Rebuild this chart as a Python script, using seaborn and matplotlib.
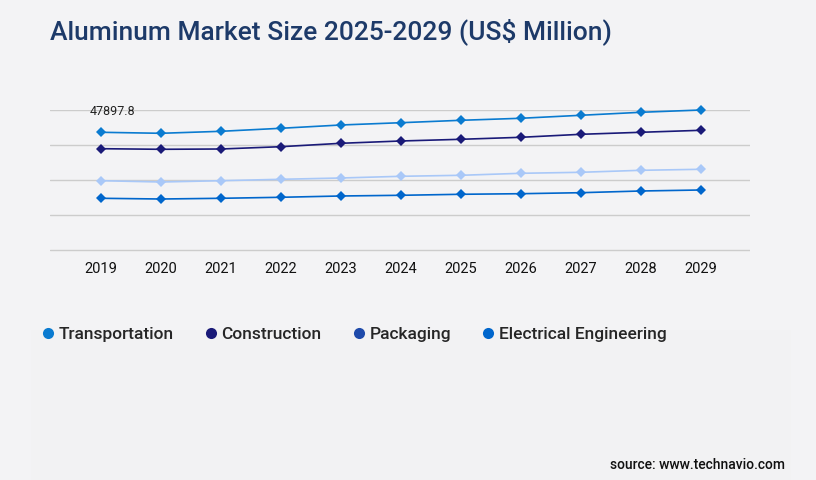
import numpy as np
import pandas as pd
import matplotlib
matplotlib.use("Agg")
import matplotlib.pyplot as plt
from matplotlib.lines import Line2D
from matplotlib.patches import Rectangle
import seaborn as sns

years = [2019, 2020, 2021, 2022, 2023, 2024, 2025, 2026, 2027, 2028, 2029]
transportation = [47897.8, 47490, 48300, 49530, 50870, 51800, 52780, 53600, 54820, 56040, 56970]
construction = [41220, 40980, 41100, 42040, 43420, 44360, 45050, 45860, 47080, 47900, 48710]
packaging = [28200, 27670, 28200, 28770, 29300, 29990, 30400, 31210, 31620, 32430, 32840]
electrical = [21040, 20750, 21040, 21450, 21980, 22260, 22670, 22910, 23320, 24010, 24420]

segments = ["Transportation", "Construction", "Packaging", "Electrical Engineering"]
line_colors = {"Transportation": "#0A7BD0", "Construction": "#1A1A78",
               "Packaging": "#A9C8F8", "Electrical Engineering": "#0066CC"}
legend_colors = ["#0A7BD0", "#1A1A78", "#1E4AAA", "#0066CC"]

df = pd.DataFrame({
    "year": years * 4,
    "value": transportation + construction + packaging + electrical,
    "segment": [s for s in segments for _ in years],
})

bg = "#F3F3F5"
sns.set_style("white")
plt.rcParams["font.family"] = ["Roboto", "DejaVu Sans"]

fig = plt.figure(figsize=(8.16, 4.8), dpi=100, facecolor=bg)
fig.patches.append(Rectangle((31 / 816, 0), 760 / 816, 150 / 480, transform=fig.transFigure,
                             facecolor="#F2F2F3", edgecolor="none", zorder=0))
# axes a bit taller than the grid so the bottom gridline is not clipped
ax = fig.add_axes([50 / 816, 1 - 252 / 480, 700 / 816, 142 / 480])
ax.set_facecolor("none")

sns.lineplot(data=df, x="year", y="value", hue="segment", palette=line_colors,
             marker="D", markersize=5.5, markeredgewidth=0, linewidth=1.2,
             legend=False, ax=ax, clip_on=False)

ax.set_ylim(-814, 56970)
ax.set_yticks(np.linspace(0, 56970, 5))
ax.set_yticklabels([])
ax.tick_params(axis="y", length=0)
ax.set_xlim(2019 - 0.85, 2029 + 0.82)
ax.set_xticks(years)
ax.set_xticklabels([str(y) for y in years], fontsize=10.5, color="#111111")
ax.tick_params(axis="x", length=0, pad=7)
ax.grid(axis="y", color="#CCCCCC", linewidth=1)
ax.set_axisbelow(True)
ax.set_xlabel("")
ax.set_ylabel("")
for s in ax.spines.values():
    s.set_visible(False)

ax.annotate(f"{transportation[0]}", (years[0], transportation[0]), xytext=(-11, 14),
            textcoords="offset pixels", ha="left", va="bottom", fontsize=9, color="#222222")

fig.text(50 / 816, 1 - 32 / 480, "Aluminum Market Size 2025-2029 (US$ Million)",
         fontsize=19, fontweight="medium", color="#1D3A69", va="center", ha="left")

handles = [Line2D([], [], marker="o", linestyle="none", markersize=8, color=c,
                  markeredgewidth=0) for c in legend_colors]
fig.legend(handles, segments, loc="center left", bbox_to_anchor=(24 / 816, 1 - 334 / 480),
           ncol=4, frameon=False, handletextpad=0.1, columnspacing=1.65,
           handlelength=1.0, prop={"size": 12.5, "weight": "medium"})

fig.text(785 / 816, 1 - 465 / 480, "source: www.technavio.com", fontsize=10,
         fontweight="medium", color="#111111", ha="right", va="center")

fig.savefig("out.png", dpi=100, facecolor=bg)
